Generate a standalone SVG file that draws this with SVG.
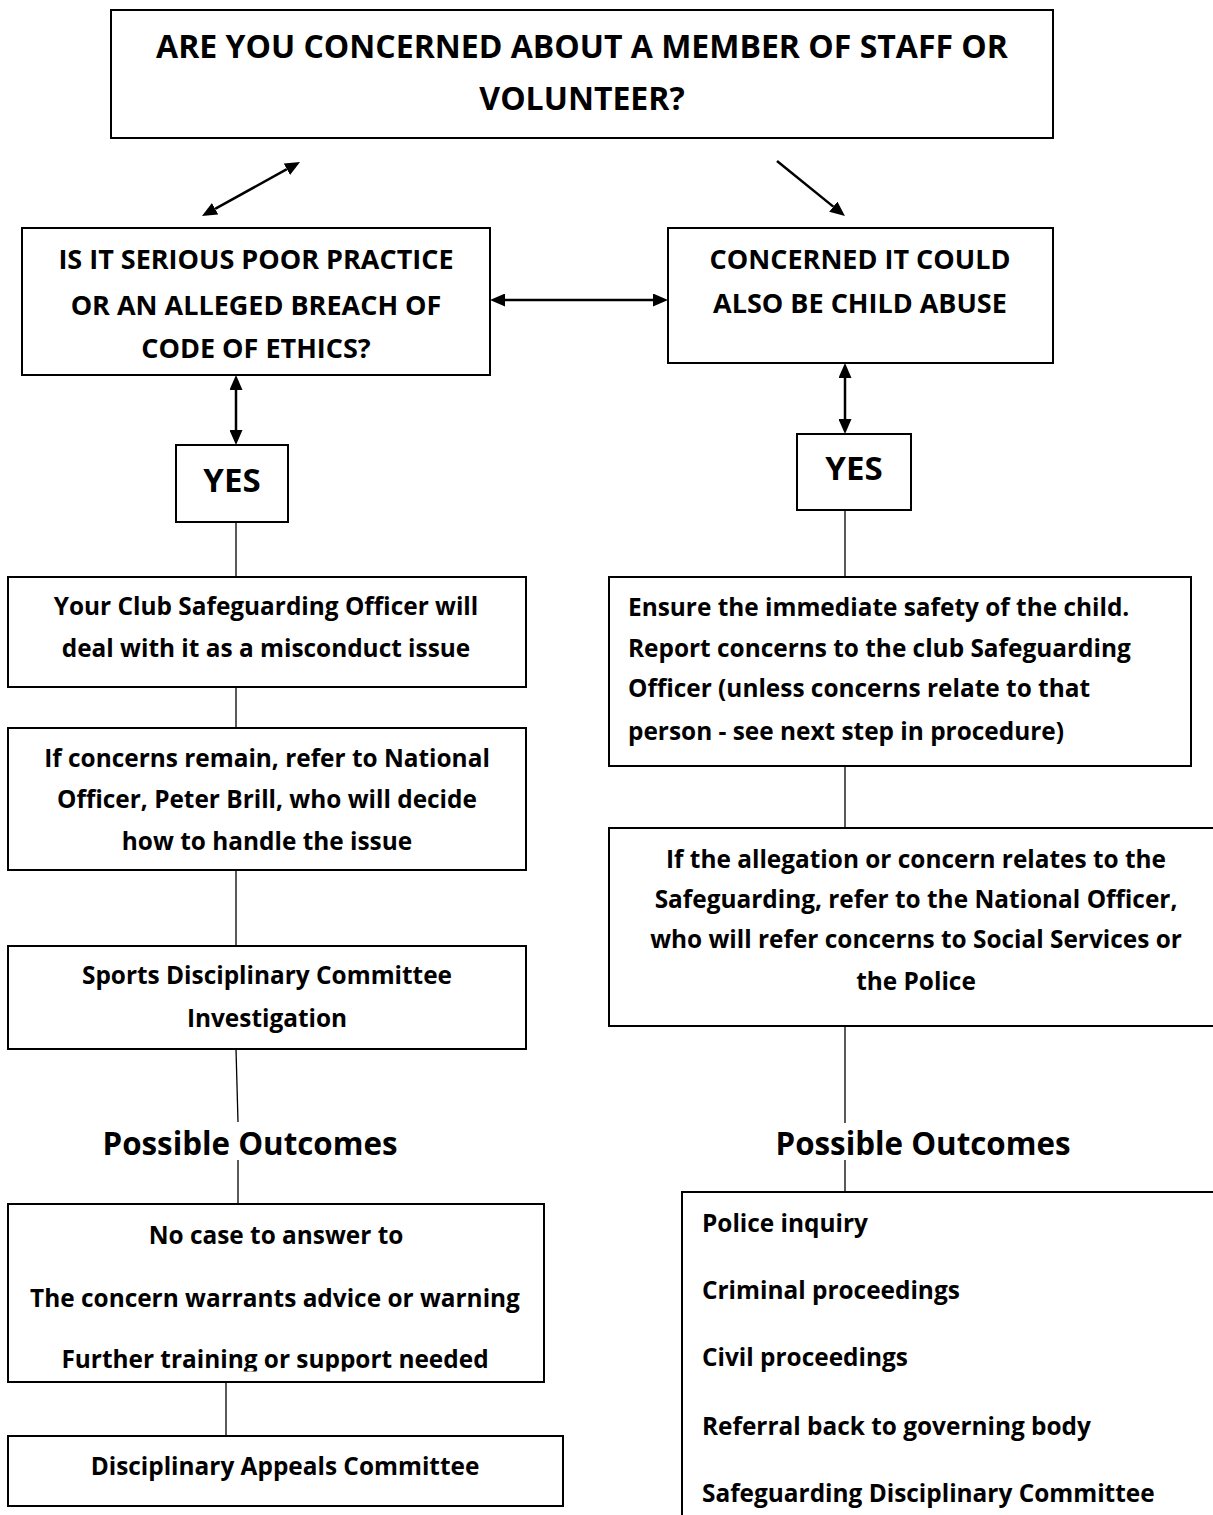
<svg xmlns="http://www.w3.org/2000/svg" width="1213" height="1515" viewBox="0 0 1213 1515">
<style>
.box{fill:#fff;stroke:#000;stroke-width:2}
.t{font-family:"Open Sans","Noto Sans","Liberation Sans",sans-serif;font-weight:700;fill:#000}
.c{text-anchor:middle}
.title{font-size:32px}
.q{font-size:27px}
.yes{font-size:33px}
.b{font-size:24.4px}
.po{font-size:31.3px}
.ln{stroke:#000;stroke-width:1.3;fill:none}
.ar{stroke:#000;stroke-width:2.5;fill:none}
</style>
<defs>
<marker id="ah" markerUnits="userSpaceOnUse" markerWidth="15" markerHeight="13" refX="0" refY="6.5" orient="auto-start-reverse">
<path d="M0,0 L15,6.5 L0,13 z" fill="#000"/>
</marker>
<clipPath id="clipH"><rect x="0" y="1200" width="600" height="171.5"/></clipPath>
</defs>
<rect width="1213" height="1515" fill="#fff"/>

<g id="connectors">
<line class="ar" x1="215.1" y1="208.8" x2="286.9" y2="169.2" marker-start="url(#ah)" marker-end="url(#ah)"/>
<line class="ar" x1="777" y1="161" x2="833.3" y2="206.6" marker-end="url(#ah)"/>
<line class="ar" x1="505" y1="300" x2="653" y2="300" marker-start="url(#ah)" marker-end="url(#ah)"/>
<line class="ar" x1="236" y1="390" x2="236" y2="430" marker-start="url(#ah)" marker-end="url(#ah)"/>
<line class="ar" x1="845" y1="378" x2="845" y2="419" marker-start="url(#ah)" marker-end="url(#ah)"/>
<line class="ln" x1="236" y1="522" x2="236" y2="577"/>
<line class="ln" x1="236" y1="687" x2="236" y2="728"/>
<line class="ln" x1="236" y1="870" x2="236" y2="946"/>
<line class="ln" x1="236" y1="1049" x2="238" y2="1122"/>
<line class="ln" x1="238" y1="1160" x2="238" y2="1204"/>
<line class="ln" x1="226" y1="1382" x2="226" y2="1436"/>
<line class="ln" x1="845" y1="510" x2="845" y2="577"/>
<line class="ln" x1="845" y1="766" x2="845" y2="828"/>
<line class="ln" x1="845" y1="1026" x2="845" y2="1123"/>
<line class="ln" x1="845" y1="1160" x2="845" y2="1192"/>
</g>

<g id="n-top">
<rect class="box" x="111" y="10" width="942" height="128"/>
<text class="t c title" x="582" y="58">ARE YOU CONCERNED ABOUT A MEMBER OF STAFF OR</text>
<text class="t c title" x="582" y="110">VOLUNTEER?</text>
</g>

<g id="n-serious">
<rect class="box" x="22" y="228" width="468" height="147"/>
<text class="t c q" x="256" y="269">IS IT SERIOUS POOR PRACTICE</text>
<text class="t c q" x="256" y="315">OR AN ALLEGED BREACH OF</text>
<text class="t c q" x="256" y="358">CODE OF ETHICS?</text>
</g>

<g id="n-abuse">
<rect class="box" x="668" y="228" width="385" height="135"/>
<text class="t c q" x="860" y="269">CONCERNED IT COULD</text>
<text class="t c q" x="860" y="313">ALSO BE CHILD ABUSE</text>
</g>

<g id="n-yes-left">
<rect class="box" x="176" y="445" width="112" height="77"/>
<text class="t c yes" x="232" y="492">YES</text>
</g>

<g id="n-yes-right">
<rect class="box" x="797" y="434" width="114" height="76"/>
<text class="t c yes" x="854" y="480">YES</text>
</g>

<g id="n-club">
<rect class="box" x="8" y="577" width="518" height="110"/>
<text class="t c b" x="266" y="615">Your Club Safeguarding Officer will</text>
<text class="t c b" x="266" y="657">deal with it as a misconduct issue</text>
</g>

<g id="n-national">
<rect class="box" x="8" y="728" width="518" height="142"/>
<text class="t c b" x="267" y="767">If concerns remain, refer to National</text>
<text class="t c b" x="267" y="808">Officer, Peter Brill, who will decide</text>
<text class="t c b" x="267" y="850">how to handle the issue</text>
</g>

<g id="n-sports">
<rect class="box" x="8" y="946" width="518" height="103"/>
<text class="t c b" x="267" y="984">Sports Disciplinary Committee</text>
<text class="t c b" x="267" y="1027">Investigation</text>
</g>

<g id="n-po-left">
<text class="t c po" x="250" y="1155">Possible Outcomes</text>
</g>

<g id="n-outcomes-left">
<rect class="box" x="8" y="1204" width="536" height="178"/>
<g clip-path="url(#clipH)">
<text class="t c b" x="276" y="1244">No case to answer to</text>
<text class="t c b" x="275" y="1307">The concern warrants advice or warning</text>
<text class="t c b" x="275" y="1368">Further training or support needed</text>
</g>
</g>

<g id="n-appeals">
<rect class="box" x="8" y="1436" width="555" height="70"/>
<text class="t c b" x="285" y="1475">Disciplinary Appeals Committee</text>
</g>

<g id="n-ensure">
<rect class="box" x="609" y="577" width="582" height="189"/>
<text class="t b" x="628" y="616">Ensure the immediate safety of the child.</text>
<text class="t b" x="628" y="657">Report concerns to the club Safeguarding</text>
<text class="t b" x="628" y="697">Officer (unless concerns relate to that</text>
<text class="t b" x="628" y="740">person - see next step in procedure)</text>
</g>

<g id="n-allegation">
<rect class="box" x="609" y="828" width="640" height="198"/>
<text class="t c b" x="916" y="868">If the allegation or concern relates to the</text>
<text class="t c b" x="916" y="908">Safeguarding, refer to the National Officer,</text>
<text class="t c b" x="916" y="948">who will refer concerns to Social Services or</text>
<text class="t c b" x="916" y="990">the Police</text>
</g>

<g id="n-po-right">
<text class="t c po" x="923" y="1155">Possible Outcomes</text>
</g>

<g id="n-outcomes-right">
<rect class="box" x="682" y="1192" width="600" height="400"/>
<text class="t b" x="702" y="1232">Police inquiry</text>
<text class="t b" x="702" y="1299">Criminal proceedings</text>
<text class="t b" x="702" y="1366">Civil proceedings</text>
<text class="t b" x="702" y="1435">Referral back to governing body</text>
<text class="t b" x="702" y="1502">Safeguarding Disciplinary Committee</text>
</g>
</svg>
